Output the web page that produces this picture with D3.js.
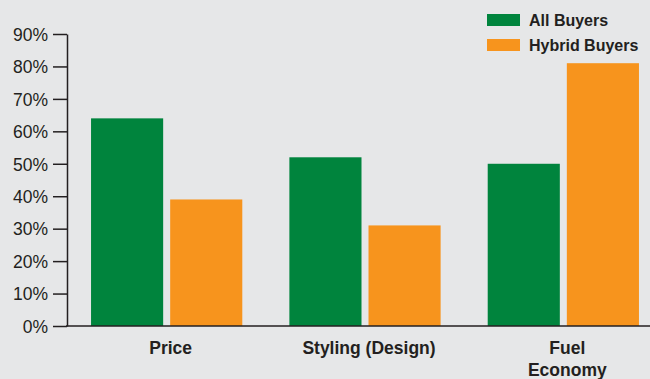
<!DOCTYPE html>
<html>
<head>
<meta charset="utf-8">
<script src="https://cdn.jsdelivr.net/npm/d3@7"></script>
<style>
  html, body { margin: 0; padding: 0; background: #e6e7e8; }
  svg { display: block; font-family: "Liberation Sans", Arial, sans-serif; }
</style>
</head>
<body>
<svg id="chart" width="650" height="379"></svg>
<script>
// data
var categories = ["Price", "Styling (Design)", "Fuel Economy"];
var seriesNames = ["All Buyers", "Hybrid Buyers"];
var allBuyers = [64, 52, 50];
var hybridBuyers = [39, 31, 81];
var yTicks = [0, 10, 20, 30, 40, 50, 60, 70, 80, 90];
var colors = ["#00843d", "#f7941d"];

var svg = d3.select("#chart"),
    width = +svg.attr("width");

var rows = categories.map(function (c, i) {
    return { name: c, values: [allBuyers[i], hybridBuyers[i]] };
});

var axisX = 67, y0 = 326, yTop = 34;

var xScale = d3.scaleBand().domain(categories)
    .range([66, 664]).paddingInner(47 / 198).paddingOuter(25 / 198);
var xInner = d3.scaleBand().domain([0, 1])
    .range([0, xScale.bandwidth()]).paddingInner(7 / 79);
var yScale = d3.scaleLinear().domain([0, 90]).range([y0, yTop]);

// bars
var groups = svg.selectAll(".grp")
    .data(rows)
    .enter().append("g")
    .attr("class", "grp")
    .attr("transform", function (d) { return "translate(" + xScale(d.name) + ",0)"; });

groups.selectAll("rect")
    .data(function (d) { return d.values; })
    .enter().append("rect")
    .attr("x", function (d, i) { return xInner(i); })
    .attr("y", function (d) { return yScale(d); })
    .attr("width", xInner.bandwidth())
    .attr("height", function (d) { return y0 - yScale(d); })
    .style("fill", function (d, i) { return colors[i]; });

// y axis
var yAxis = svg.append("g")
    .attr("transform", "translate(" + axisX + ",0)")
    .call(d3.axisLeft(yScale).tickValues(yTicks).tickSize(14).tickSizeOuter(0).tickPadding(5)
        .tickFormat(function (d) { return d + "%"; }));
yAxis.select(".domain").attr("stroke", "#231f20").attr("stroke-width", 1.5);
yAxis.selectAll(".tick line").attr("stroke", "#231f20").attr("stroke-width", 1.5);
yAxis.selectAll(".tick text")
    .attr("fill", "#231f20")
    .attr("dy", "0.36em")
    .style("font-size", "17.5px")
    .attr("font-family", "Liberation Sans, Arial, sans-serif");

// x axis baseline
svg.append("line")
    .attr("x1", axisX - 1).attr("x2", width)
    .attr("y1", y0).attr("y2", y0)
    .attr("stroke", "#231f20").attr("stroke-width", 1.5);

// category labels
var labels = svg.selectAll(".cat")
    .data(categories)
    .enter().append("text")
    .attr("class", "cat")
    .attr("x", function (d) { return xScale(d) + xScale.bandwidth() / 2 + 4; })
    .attr("y", 354)
    .attr("text-anchor", "middle")
    .style("font-size", "17.5px")
    .style("font-weight", "bold")
    .attr("fill", "#231f20");

labels.each(function (d) {
    var t = d3.select(this);
    if (d === "Fuel Economy") {
        t.append("tspan").attr("x", t.attr("x")).text("Fuel");
        t.append("tspan").attr("x", t.attr("x")).attr("dy", 21.5).text("Economy");
    } else {
        t.text(d);
    }
});

// legend
var legend = svg.selectAll(".legendItem")
    .data(seriesNames)
    .enter().append("g")
    .attr("class", "legendItem")
    .attr("transform", function (d, i) { return "translate(487," + (14 + 25 * i) + ")"; });

legend.append("rect")
    .attr("width", 33)
    .attr("height", 12)
    .style("fill", function (d, i) { return colors[i]; });

legend.append("text")
    .attr("x", 42)
    .attr("y", 11.5)
    .style("font-size", "16px")
    .style("font-weight", "bold")
    .attr("fill", "#231f20")
    .text(function (d) { return d; });
</script>
</body>
</html>
